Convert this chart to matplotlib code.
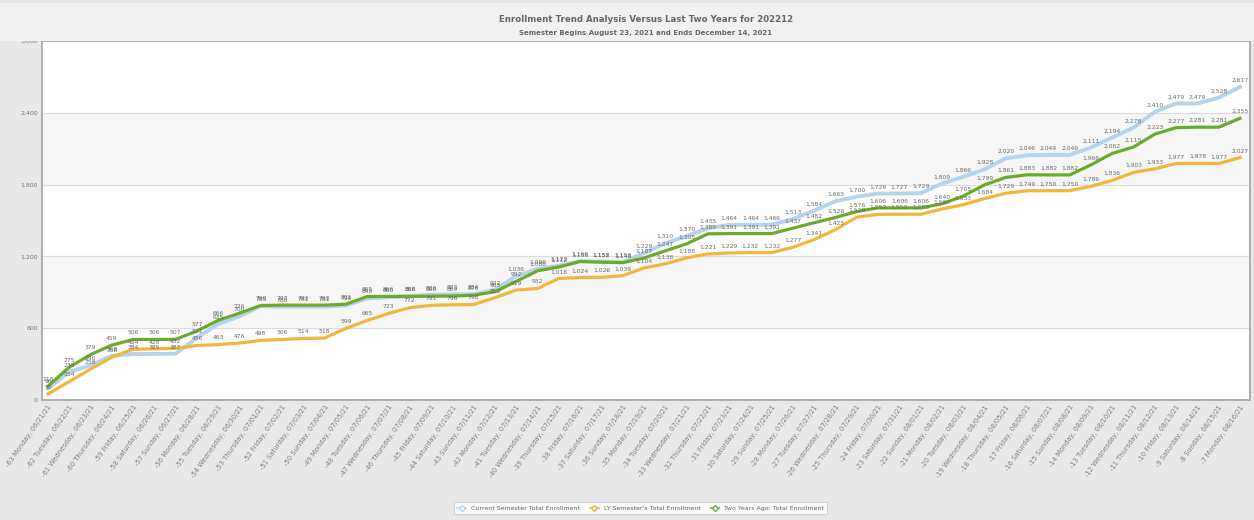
import matplotlib.pyplot as plt
from matplotlib.lines import Line2D
from matplotlib.patches import Rectangle

# days before semester start, one label per point
day_labels = ['-63 Monday, 06/21/21', '-62 Tuesday, 06/22/21', '-61 Wednesday, 06/23/21', '-60 Thursday, 06/24/21',
              '-59 Friday, 06/25/21', '-58 Saturday, 06/26/21', '-57 Sunday, 06/27/21', '-56 Monday, 06/28/21',
              '-55 Tuesday, 06/29/21', '-54 Wednesday, 06/30/21', '-53 Thursday, 07/01/21', '-52 Friday, 07/02/21',
              '-51 Saturday, 07/03/21', '-50 Sunday, 07/04/21', '-49 Monday, 07/05/21', '-48 Tuesday, 07/06/21',
              '-47 Wednesday, 07/07/21', '-46 Thursday, 07/08/21', '-45 Friday, 07/09/21', '-44 Saturday, 07/10/21',
              '-43 Sunday, 07/11/21', '-42 Monday, 07/12/21', '-41 Tuesday, 07/13/21', '-40 Wednesday, 07/14/21',
              '-39 Thursday, 07/15/21', '-38 Friday, 07/16/21', '-37 Saturday, 07/17/21', '-36 Sunday, 07/18/21',
              '-35 Monday, 07/19/21', '-34 Tuesday, 07/20/21', '-33 Wednesday, 07/21/21', '-32 Thursday, 07/22/21',
              '-31 Friday, 07/23/21', '-30 Saturday, 07/24/21', '-29 Sunday, 07/25/21', '-28 Monday, 07/26/21',
              '-27 Tuesday, 07/27/21', '-26 Wednesday, 07/28/21', '-25 Thursday, 07/29/21', '-24 Friday, 07/30/21',
              '-23 Saturday, 07/31/21', '-22 Sunday, 08/01/21', '-21 Monday, 08/02/21', '-20 Tuesday, 08/03/21',
              '-19 Wednesday, 08/04/21', '-18 Thursday, 08/05/21', '-17 Friday, 08/06/21', '-16 Saturday, 08/07/21',
              '-15 Sunday, 08/08/21', '-14 Monday, 08/09/21', '-13 Tuesday, 08/10/21', '-12 Wednesday, 08/11/21',
              '-11 Thursday, 08/12/21', '-10 Friday, 08/13/21', '-9 Saturday, 08/14/21', '-8 Sunday, 08/15/21',
              '-7 Monday, 08/16/21']

current = [96, 235, 290, 368, 384, 385, 387, 521, 635, 700, 785, 780, 781, 781, 790, 848, 860, 868, 880, 883,
           884, 922, 1036, 1096, 1122, 1160, 1158, 1153, 1229, 1310, 1370, 1435, 1464, 1464, 1466, 1513, 1584,
           1663, 1700, 1726, 1727, 1729, 1809, 1866, 1928, 2020, 2046, 2049, 2049, 2111, 2194, 2278, 2410, 2479,
           2479, 2528, 2617]
last_year = [50, 154, 258, 358, 424, 428, 432, 456, 463, 476, 498, 506, 514, 518, 599, 665, 723, 772, 791, 796,
             798, 855, 919, 932, 1016, 1024, 1026, 1039, 1104, 1138, 1188, 1221, 1229, 1232, 1232, 1277, 1341,
             1425, 1529, 1552, 1553, 1553, 1597, 1633, 1684, 1729, 1749, 1750, 1750, 1786, 1836, 1903, 1933, 1977,
             1978, 1977, 2027]
two_years = [115, 275, 379, 459, 506, 506, 507, 577, 666, 726, 790, 793, 793, 793, 801, 865, 866, 866, 868, 869,
             876, 905, 992, 1080, 1112, 1158, 1152, 1148, 1187, 1247, 1305, 1389, 1391, 1391, 1391, 1437, 1482,
             1526, 1576, 1606, 1606, 1606, 1640, 1705, 1799, 1861, 1883, 1882, 1882, 1966, 2062, 2115, 2223, 2277,
             2281, 2281, 2355]

series_names = ['Current Semester Total Enrollment', "LY Semester's Total Enrollment", 'Two Years Ago: Total Enrollment']
series_colors = ['#b7d3ec', '#f2b63c', '#6caa2c']
y_ticks = [0, 600, 1200, 1800, 2400, 3000]

fig = plt.figure(figsize=(12.54, 5.2), dpi=100, facecolor='#e8e8e8')
fig.patches.append(Rectangle((0, 1 - 41 / 520), 1, 38 / 520, transform=fig.transFigure,
                             facecolor='#f1f1f1', edgecolor='none', zorder=0))

ax = fig.add_axes([0.0335, 0.2308, 0.9633, 0.690])
ax.set_facecolor('white')

# alternating bands
for k in range(1, len(y_ticks) - 1, 2):
    ax.axhspan(y_ticks[k], y_ticks[k + 1], color='#f6f6f6', zorder=0)
for t in y_ticks[1:-1]:
    ax.axhline(t, color='#dcdcdc', lw=0.8, zorder=0.5)

x = list(range(len(day_labels)))
for vals, col, w in zip([current, last_year, two_years], series_colors, [2.8, 2.3, 2.3]):
    ax.plot(x, vals, color=col, lw=w, solid_joinstyle='round', zorder=2)
for vals in [current, last_year, two_years]:
    for i, v in enumerate(vals):
        ax.annotate(f'{v:,}', (i, v), xytext=(0, 3), textcoords='offset points', ha='center', va='bottom',
                    fontsize=4.3, color='#6a6a6a', zorder=3)

ax.set_xlim(-0.28, len(day_labels) - 1 + 0.47)
ax.set_ylim(0, 3000)
ax.set_yticks(y_ticks)
ax.set_yticklabels([f'{t:,}' for t in y_ticks], fontsize=4.5, color='#777777')
ax.set_xticks(x)
ax.set_xticklabels(day_labels, rotation=55, ha='right', va='top', rotation_mode='anchor',
                   fontsize=4.9, color='#808080')
ax.tick_params(axis='both', length=0, pad=3)
for s in ax.spines.values():
    s.set_color('#a8a8a8')
    s.set_linewidth(1.3)

fig.text(0.515, 1 - 20 / 520, 'Enrollment Trend Analysis Versus Last Two Years for 202212', ha='center',
         va='center', fontsize=6.2, fontweight='bold', color='#666666')
fig.text(0.515, 1 - 33 / 520, 'Semester Begins August 23, 2021 and Ends December 14, 2021', ha='center',
         va='center', fontsize=5.0, fontweight='bold', color='#666666')

handles = [Line2D([0], [0], color=c, lw=1.2, marker='D', markersize=3, markerfacecolor='white',
                  markeredgecolor=c) for c in series_colors]
leg = fig.legend(handles, series_names, loc='center', bbox_to_anchor=(0.511, 1 - 508 / 520), ncol=3,
                 fontsize=4.5, frameon=True, fancybox=False, handlelength=1.4, columnspacing=1.6,
                 borderpad=0.5, labelcolor='#666666')
leg.get_frame().set_edgecolor('#cccccc')
leg.get_frame().set_linewidth(0.8)

fig.savefig('out.png', dpi=100, facecolor=fig.get_facecolor())
